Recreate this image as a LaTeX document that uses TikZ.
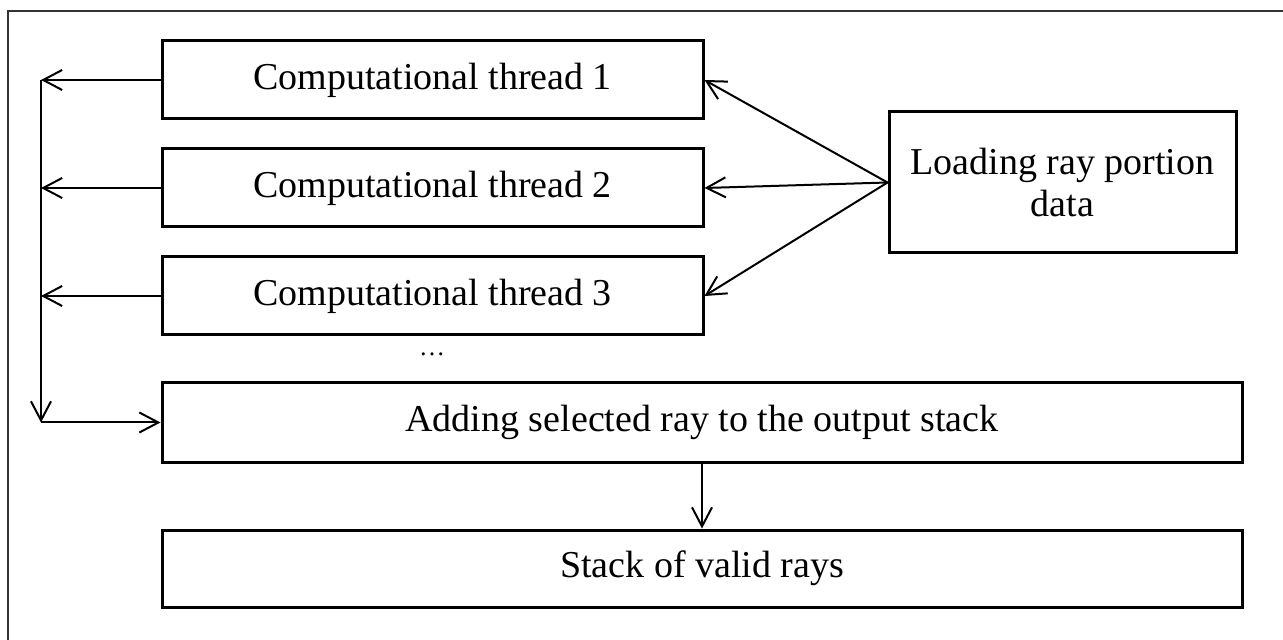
\documentclass[tikz,border=0pt]{standalone}
\usepackage{fontspec}
\setmainfont{Liberation Serif}
\usetikzlibrary{arrows.meta,positioning}
\tikzset{
  box/.style={draw,line width=1.5pt,inner sep=0pt,align=center,font=\fontsize{19}{21}\selectfont},
  thread/.style={box,minimum width=270.5pt,minimum height=39pt},
  wide/.style={box,minimum width=540pt,minimum height=39pt},
  ar/.style={-{Straight Barb[length=9.5pt,width=10pt]},line width=1pt},
}
\begin{document}
\begin{tikzpicture}[x=0.5pt,y=-0.5pt]
    \clip (0,0) rectangle (1283,640);
    \draw[line width=1pt,black!80] (8,11) rectangle (1300,660);
    \node[thread] (t1) at (432.5,80) {Computational thread 1};
    \node[thread,below=13.5pt of t1] (t2) {Computational thread 2};
    \node[thread,below=13.5pt of t2] (t3) {Computational thread 3};
    \node[box,minimum width=173.5pt,minimum height=70.5pt] (load) at (1062.5,182.5) {Loading ray portion\\data};
    \node[font=\fontsize{13}{15}\selectfont,inner sep=0pt] (dots) at (432,354) {…};
    \node[wide,minimum height=39.5pt] (add) at (702,422.5) {Adding selected ray to the output stack};
    \node[wide,minimum height=38.5pt] (stack) at (702,568.5) {Stack of valid rays};
    \coordinate (bus) at (41,422.5);
    % threads to the collecting line
    \draw[ar](t1.west)--(t1.west-|bus);\draw[ar](t2.west)--(t2.west-|bus);\draw[ar](t3.west)--(t3.west-|bus);
    \draw[ar](t1.west-|bus)--(bus);\draw[ar](bus)--(add.west);
    % loading to threads
    \draw[ar](load.west)--(t1.east);\draw[ar](load.west)--(t2.east);\draw[ar](load.west)--(t3.east);
    \draw[ar](add.south)--(stack.north);
  \end{tikzpicture}
\end{document}
